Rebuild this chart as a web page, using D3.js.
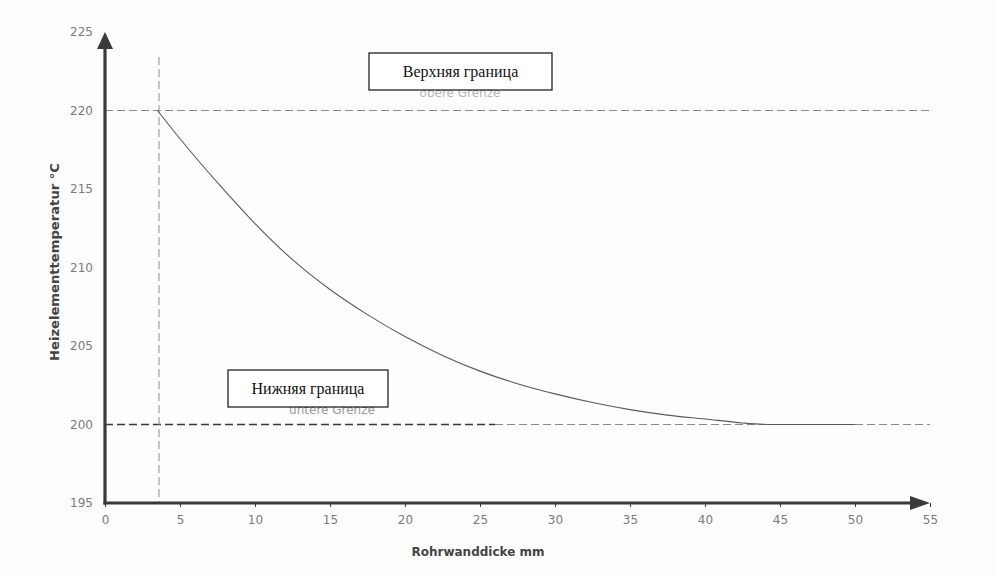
<!DOCTYPE html>
<html><head><meta charset="utf-8">
<script src="https://cdn.jsdelivr.net/npm/d3@7"></script>
<style>
html,body{margin:0;padding:0;background:#fdfdfd;}
svg{display:block;}
</style></head>
<body>
<svg id="chart" width="997" height="577"></svg>
<script>
// Data
const curveX = [3.5, 5, 7.5, 10, 12.5, 15, 17.5, 20, 22.5, 25, 27.5, 30, 32.5, 35, 37.5, 40, 42.5, 44.5, 50];
const curveY = [220, 218.2, 215.4, 212.8, 210.5, 208.6, 207.0, 205.6, 204.4, 203.4, 202.6, 201.95, 201.4, 200.95, 200.6, 200.35, 200.1, 200, 200];
const xTicks = [0, 5, 10, 15, 20, 25, 30, 35, 40, 45, 50, 55];
const yTicks = [195, 200, 205, 210, 215, 220, 225];
const upperLimit = 220;
const lowerLimit = 200;
const lowerDarkEnd = 26;
const minThickness = 3.6;
const verticalTop = 223.4;
const xTitle = "Rohrwanddicke mm";
const yTitle = "Heizelementtemperatur °C";
const upperLabel = "Верхняя граница";
const lowerLabel = "Нижняя граница";
const upperFaded = "obere Grenze";
const lowerFaded = "untere Grenze";

const svg = d3.select("#chart");
const x = d3.scaleLinear().domain([0, 55]).range([105, 930]);
const y = d3.scaleLinear().domain([195, 225]).range([503, 32]);

const axisCol = "#3a3a3a";
const tickCol = "#7a7a7a";

// reference lines
svg.append("line").attr("x1", x(0)).attr("x2", x(55)).attr("y1", y(upperLimit)).attr("y2", y(upperLimit))
  .attr("stroke", "#8a8a8a").attr("stroke-width", 1).attr("stroke-dasharray", "8,4");
svg.append("line").attr("x1", x(0)).attr("x2", x(lowerDarkEnd)).attr("y1", y(lowerLimit)).attr("y2", y(lowerLimit))
  .attr("stroke", "#3a3a3a").attr("stroke-width", 1.3).attr("stroke-dasharray", "8,4");
svg.append("line").attr("x1", x(lowerDarkEnd)).attr("x2", x(55)).attr("y1", y(lowerLimit)).attr("y2", y(lowerLimit))
  .attr("stroke", "#8a8a8a").attr("stroke-width", 1).attr("stroke-dasharray", "8,4");
svg.append("line").attr("x1", x(minThickness)).attr("x2", x(minThickness)).attr("y1", y(verticalTop)).attr("y2", y(195))
  .attr("stroke", "#8a8a8a").attr("stroke-width", 1).attr("stroke-dasharray", "8,4");

// curve
const pts = curveX.map((d, i) => [d, curveY[i]]);
svg.append("path").datum(pts)
  .attr("d", d3.line().x(d => x(d[0])).y(d => y(d[1])).curve(d3.curveMonotoneX))
  .attr("fill", "none").attr("stroke", "#5a5a5a").attr("stroke-width", 1.1);

// x axis
const xAxis = d3.axisBottom(x).tickValues(xTicks).tickSize(4).tickPadding(8);
const gx = svg.append("g").attr("transform", `translate(0,${y(195)})`).call(xAxis);
gx.select(".domain").remove();
gx.selectAll(".tick line").attr("stroke", axisCol);
gx.selectAll(".tick text").attr("fill", tickCol).attr("font-family", "DejaVu Sans, sans-serif").attr("font-size", 12);

// y axis labels
const yAxis = d3.axisLeft(y).tickValues(yTicks).tickSize(0).tickPadding(12);
const gy = svg.append("g").attr("transform", `translate(${x(0)},0)`).call(yAxis);
gy.select(".domain").remove();
gy.selectAll(".tick text").attr("fill", tickCol).attr("font-family", "DejaVu Sans, sans-serif").attr("font-size", 12);

// axis lines with arrows
svg.append("line").attr("x1", x(0)).attr("x2", x(0)).attr("y1", y(195) + 1.5).attr("y2", y(225) + 14)
  .attr("stroke", axisCol).attr("stroke-width", 3.2);
svg.append("path").attr("d", `M${x(0)},${y(225)} L${x(0) - 8},${y(225) + 17} L${x(0) + 8},${y(225) + 17} Z`).attr("fill", axisCol);
svg.append("line").attr("x1", x(0) - 1.5).attr("x2", x(55) - 14).attr("y1", y(195)).attr("y2", y(195))
  .attr("stroke", axisCol).attr("stroke-width", 3.2);
svg.append("path").attr("d", `M${x(55)},${y(195)} L${x(55) - 20},${y(195) - 7} L${x(55) - 20},${y(195) + 7} Z`).attr("fill", axisCol);

// axis titles
svg.append("text").attr("x", 478).attr("y", 556).attr("text-anchor", "middle")
  .attr("font-family", "DejaVu Sans, sans-serif").attr("font-weight", "bold").attr("font-size", 12)
  .attr("fill", "#444").text(xTitle);
svg.append("text").attr("transform", "translate(59,262) rotate(-90)").attr("text-anchor", "middle")
  .attr("font-family", "DejaVu Sans, sans-serif").attr("font-weight", "bold").attr("font-size", 12)
  .attr("fill", "#444").attr("textLength", 198).attr("lengthAdjust", "spacingAndGlyphs").text(yTitle);

// faded original labels
svg.append("text").attr("x", 460).attr("y", 97).attr("text-anchor", "middle")
  .attr("font-family", "DejaVu Sans, sans-serif").attr("font-size", 12).attr("fill", "#b5b5b5").text(upperFaded);
svg.append("text").attr("x", 332).attr("y", 414).attr("text-anchor", "middle")
  .attr("font-family", "DejaVu Sans, sans-serif").attr("font-size", 12).attr("fill", "#9a9a9a").text(lowerFaded);

// label boxes
function box(x0, y0, w, h, label) {
  svg.append("rect").attr("x", x0).attr("y", y0).attr("width", w).attr("height", h)
    .attr("fill", "#ffffff").attr("stroke", "#111").attr("stroke-width", 1.2);
  svg.append("text").attr("x", x0 + w / 2).attr("y", y0 + h / 2 + 5).attr("text-anchor", "middle")
    .attr("font-family", "Liberation Serif, serif").attr("font-size", 16).attr("fill", "#111").text(label);
}
box(369, 53, 183, 37, upperLabel);
box(228, 370, 160, 37, lowerLabel);
</script>
</body></html>
